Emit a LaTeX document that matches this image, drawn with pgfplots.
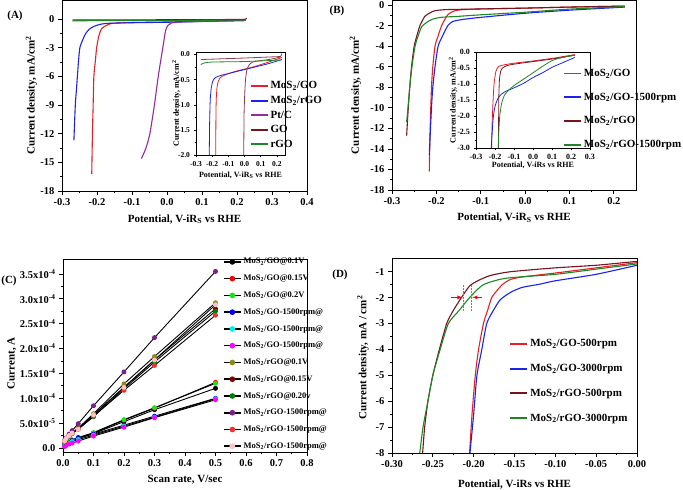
\documentclass[border=0pt]{standalone}
\usepackage{fontspec}
\setmainfont{Liberation Serif}
\usepackage{pgfplots}
\pgfplotsset{compat=1.18}
\definecolor{cR}{RGB}{235,30,35}
\definecolor{cB}{RGB}{25,35,235}
\definecolor{cP}{RGB}{150,40,160}
\definecolor{cM}{RGB}{120,20,30}
\definecolor{cG}{RGB}{30,135,35}
\definecolor{cIM}{RGB}{140,60,75}
\definecolor{kBlack}{RGB}{0,0,0}
\definecolor{kRed}{RGB}{255,0,0}
\definecolor{kLime}{RGB}{20,230,20}
\definecolor{kBlue}{RGB}{0,0,255}
\definecolor{kCyan}{RGB}{0,240,240}
\definecolor{kMag}{RGB}{255,0,255}
\definecolor{kOlive}{RGB}{140,140,20}
\definecolor{kMaroon}{RGB}{130,0,0}
\definecolor{kDGreen}{RGB}{0,125,0}
\definecolor{kPurple}{RGB}{125,30,140}
\definecolor{kRed2}{RGB}{240,50,50}
\definecolor{kPink}{RGB}{255,195,195}
\pgfplotsset{
  orig/.style={
    scale only axis, anchor=south west,
    axis line style={line width=0.9pt}, tick style={line width=0.7pt, black},
    tick align=outside, xtick pos=left, ytick pos=left, minor tick num=1,
    major tick length=4pt, minor tick length=2.2pt,
    /pgf/number format/assume math mode=true,
    tick label style={font=\fontsize{10.5}{12}\selectfont\bfseries},
    label style={font=\fontsize{11}{13}\selectfont\bfseries},
    legend cell align=left,
    legend style={draw=none, fill=none, anchor=north west, inner sep=0pt,
      font=\fontsize{11}{12}\selectfont\bfseries},
    legend image post style={line width=1.9pt},
    every axis plot/.append style={line width=1.1pt},
  },
  inset/.style={
    scale only axis, anchor=south west,
    axis line style={line width=0.6pt}, tick style={line width=0.5pt, black},
    tick align=outside, xtick pos=left, ytick pos=left, minor tick num=1,
    major tick length=2.5pt, minor tick length=1.5pt,
    /pgf/number format/assume math mode=true,
    tick label style={font=\fontsize{7.5}{9}\selectfont\bfseries},
    label style={font=\fontsize{8}{9}\selectfont\bfseries},
    every axis plot/.append style={line width=0.8pt},
  },
  xf1/.style={xticklabel style={/pgf/number format/.cd, fixed, fixed zerofill, precision=1}},
  yf1/.style={yticklabel style={/pgf/number format/.cd, fixed, fixed zerofill, precision=1}},
}
\begin{document}
\begin{tikzpicture}
\path[use as bounding box] (0pt,0pt) rectangle (683pt,490pt);
% ---------------- Panel A ----------------
\begin{axis}[orig, xf1, at={(62pt,299pt)}, width=245pt, height=191pt,
  xmin=-0.3, xmax=0.4, ymin=-18, ymax=2,
  xtick={-0.3,-0.2,...,0.4}, ytick={-18,-15,...,0},
  xlabel={Potential, V-iR\textsubscript{S} vs RHE},
  ylabel={Current density, mA/cm\textsuperscript{2}},
  xlabel style={at={(axis description cs:0.5,-0.147)}, anchor=center},
  ylabel style={at={(axis description cs:-0.125,0.5)}, anchor=center},
  legend style={at={(axis description cs:0.765,0.584)}, row sep=1.8pt},
  clip=false]
\addplot[cR, smooth, tension=0.4] coordinates {(0.225,-0.08)(0.1,-0.22)(0,-0.3)(-0.1,-0.36)(-0.15,-0.42)(-0.163,-0.5)(-0.175,-0.7)(-0.187,-1)(-0.195,-1.8)(-0.201,-3)(-0.205,-4.5)(-0.209,-6)(-0.211,-9)(-0.213,-12)(-0.215,-16.2)};
\addlegendentry{MoS\textsubscript{2}/GO}
\addplot[cB, smooth, tension=0.4] coordinates {(0.225,-0.1)(0.1,-0.25)(0,-0.33)(-0.1,-0.38)(-0.15,-0.42)(-0.175,-0.46)(-0.191,-0.55)(-0.208,-0.75)(-0.222,-1.05)(-0.232,-1.5)(-0.24,-2.1)(-0.249,-3)(-0.253,-4.5)(-0.256,-6)(-0.259,-7.5)(-0.262,-9)(-0.266,-12.7)};
\addlegendentry{MoS\textsubscript{2}/rGO}
\addplot[cP, smooth, tension=0.4] coordinates {(0.22,-0.18)(0.1,-0.24)(0.03,-0.3)(0.012,-0.42)(0.003,-0.65)(-0.004,-1.2)(-0.012,-3)(-0.025,-6)(-0.036,-9)(-0.049,-12)(-0.06,-13.5)(-0.073,-14.6)};
\addlegendentry{Pt/C}
\addplot[cM] coordinates {(-0.27,-0.1)(0,-0.07)(0.22,-0.04)(0.228,0.05)};
\addlegendentry{GO}
\addplot[cG, smooth] coordinates {(-0.27,-0.2)(-0.24,-0.17)(0,-0.14)(0.225,-0.1)};
\addlegendentry{rGO}
\end{axis}
\begin{axis}[inset, xf1, yf1, at={(196pt,335pt)}, width=89pt, height=103pt,
  xmin=-0.3, xmax=0.25, ymin=-2, ymax=0.05,
  xtick={-0.3,-0.2,...,0.2}, ytick={-2,-1.5,...,0},
  xlabel={Potential, V-iR\textsubscript{S} vs RHE},
  ylabel={Current density, mA/cm\textsuperscript{2}},
  xlabel style={at={(axis description cs:0.5,-0.2)}, anchor=center},
  ylabel style={at={(axis description cs:-0.22,0.5)}, anchor=center}]
\addplot[cR, smooth, tension=0.4] coordinates {(0.23,-0.06)(0.15,-0.15)(0.05,-0.25)(0,-0.29)(-0.05,-0.33)(-0.1,-0.38)(-0.13,-0.42)(-0.15,-0.46)(-0.162,-0.53)(-0.17,-0.65)(-0.175,-0.9)(-0.177,-1.3)(-0.178,-2.0)};
\addplot[cB, smooth, tension=0.4] coordinates {(0.23,-0.1)(0.15,-0.18)(0.05,-0.26)(0,-0.3)(-0.05,-0.34)(-0.1,-0.38)(-0.15,-0.42)(-0.18,-0.46)(-0.195,-0.52)(-0.205,-0.65)(-0.212,-0.9)(-0.216,-1.4)(-0.218,-2.0)};
\addplot[cIM, smooth, tension=0.4] coordinates {(0.23,0.02)(0.22,-0.05)(0.15,-0.1)(0.1,-0.12)(0.05,-0.15)(0.03,-0.2)(0.015,-0.3)(0.006,-0.5)(0.001,-0.8)(-0.003,-1.2)(-0.005,-2.0)};
\addplot[cIM] coordinates {(-0.27,-0.1)(0,-0.07)(0.225,-0.04)};
\addplot[cG, smooth] coordinates {(-0.27,-0.2)(-0.25,-0.17)(-0.2,-0.15)(0,-0.14)(0.225,-0.11)};
\end{axis}
% ---------------- Panel B ----------------
\begin{axis}[orig, xf1, at={(392pt,300pt)}, width=244pt, height=190pt,
  xmin=-0.3, xmax=0.25, ymin=-18, ymax=0.49,
  xtick={-0.3,-0.2,...,0.2}, ytick={-18,-16,...,0},
  xlabel={Potential, V-iR\textsubscript{S} vs RHE},
  ylabel={Current density, mA/cm\textsuperscript{2}},
  xlabel style={at={(axis description cs:0.5,-0.147)}, anchor=center},
  ylabel style={at={(axis description cs:-0.15,0.5)}, anchor=center},
  legend style={at={(axis description cs:0.70,0.648)}, row sep=11pt},
  clip=false]
\addplot[cR, smooth, tension=0.4] coordinates {(0.225,-0.1)(0.1,-0.2)(0,-0.3)(-0.1,-0.38)(-0.14,-0.45)(-0.158,-0.55)(-0.17,-0.8)(-0.177,-1.1)(-0.188,-2)(-0.196,-3)(-0.203,-4)(-0.208,-6)(-0.211,-8)(-0.214,-12)(-0.216,-16.2)};
\addlegendentry{MoS\textsubscript{2}/GO}
\addplot[cB, smooth, tension=0.4] coordinates {(0.225,-0.2)(0.1,-0.5)(0,-0.8)(-0.1,-1.2)(-0.14,-1.4)(-0.163,-1.6)(-0.174,-2)(-0.186,-3)(-0.196,-4)(-0.203,-6)(-0.208,-8)(-0.211,-10)(-0.216,-14.6)};
\addlegendentry{MoS\textsubscript{2}/GO-1500rpm}
\addplot[cM, smooth, tension=0.4] coordinates {(0.225,-0.1)(0.1,-0.2)(0,-0.3)(-0.1,-0.38)(-0.15,-0.42)(-0.18,-0.45)(-0.203,-0.55)(-0.215,-0.78)(-0.226,-1.1)(-0.237,-2)(-0.244,-3)(-0.25,-4)(-0.256,-6)(-0.26,-8)(-0.264,-10.5)(-0.267,-12.7)};
\addlegendentry{MoS\textsubscript{2}/rGO}
\addplot[cG, smooth, tension=0.4] coordinates {(0.225,-0.15)(0.1,-0.4)(0,-0.7)(-0.1,-0.95)(-0.15,-1.1)(-0.19,-1.2)(-0.21,-1.4)(-0.222,-1.7)(-0.233,-2.1)(-0.241,-3)(-0.248,-4)(-0.255,-6)(-0.26,-8)(-0.264,-10)(-0.267,-11.4)};
\addlegendentry{MoS\textsubscript{2}/rGO-1500rpm}
\end{axis}
\begin{axis}[inset, xf1, yf1, at={(476pt,342pt)}, width=114pt, height=96pt,
  xmin=-0.3, xmax=0.3, ymin=-3, ymax=0,
  xtick={-0.3,-0.2,...,0.3}, ytick={-3,-2.5,...,0},
  tick label style={font=\fontsize{8}{9}\selectfont\bfseries},
  xlabel={Potential, V-iRs vs RHE},
  ylabel={Current density, mA/cm\textsuperscript{2}},
  xlabel style={at={(axis description cs:0.5,-0.18)}, anchor=center},
  ylabel style={at={(axis description cs:-0.2,0.5)}, anchor=center}]
\addplot[cR, smooth, tension=0.4] coordinates {(0.22,-0.08)(0.1,-0.2)(0,-0.28)(-0.1,-0.35)(-0.15,-0.4)(-0.18,-0.45)(-0.195,-0.6)(-0.205,-1.0)(-0.21,-1.5)(-0.215,-2.2)(-0.218,-3.0)};
\addplot[cB, smooth, tension=0.4] coordinates {(0.22,-0.17)(0.15,-0.35)(0.1,-0.48)(0.05,-0.65)(0,-0.8)(-0.05,-0.98)(-0.1,-1.12)(-0.15,-1.25)(-0.18,-1.4)(-0.2,-1.7)(-0.21,-2.1)(-0.22,-3.0)};
\addplot[cM, smooth, tension=0.4] coordinates {(0.22,-0.1)(0.1,-0.22)(0,-0.3)(-0.1,-0.38)(-0.14,-0.43)(-0.16,-0.5)(-0.17,-0.6)(-0.177,-0.9)(-0.18,-1.5)(-0.182,-3.0)};
\addplot[cG, smooth, tension=0.4] coordinates {(0.22,-0.1)(0.15,-0.18)(0.1,-0.27)(0.05,-0.45)(0,-0.65)(-0.05,-0.85)(-0.1,-1.05)(-0.13,-1.2)(-0.15,-1.35)(-0.165,-1.6)(-0.175,-2.0)(-0.18,-2.5)(-0.183,-3.0)};
\end{axis}
% ---------------- Panel C ----------------
\begin{axis}[orig, at={(63pt,38pt)}, width=244pt, height=193pt,
  xmin=0, xmax=0.8, ymin=-0.08, ymax=3.8,
  xtick={0,0.1,...,0.8}, ytick={0,0.5,...,3.5},
  xticklabel style={/pgf/number format/.cd, fixed, fixed zerofill, precision=1},
  yticklabels={0.0, 5.0x10\textsuperscript{-5}, 1.0x10\textsuperscript{-4}, 1.5x10\textsuperscript{-4}, 2.0x10\textsuperscript{-4}, 2.5x10\textsuperscript{-4}, 3.0x10\textsuperscript{-4}, 3.5x10\textsuperscript{-4}},
  xlabel={Scan rate, V/sec}, ylabel={Current, A},
  xlabel style={at={(axis description cs:0.5,-0.145)}, anchor=center},
  ylabel style={at={(axis description cs:-0.21,0.46)}, anchor=center},
  legend style={at={(axis description cs:0.655,1.015)}, row sep=5.6pt,
    font=\fontsize{8.5}{9.5}\selectfont\bfseries},
  legend image post style={line width=1.6pt},
  every axis plot/.append style={black, line width=0.9pt, mark=*, mark size=2pt},
  clip=false]
\addplot[mark options={fill=kBlack,draw=kBlack}] coordinates {(0.005,0.06)(0.01,0.08)(0.02,0.11)(0.03,0.15)(0.05,0.19)(0.1,0.29)(0.2,0.53)(0.3,0.77)(0.5,1.20)};
\addlegendentry{MoS\textsubscript{2}/GO@0.1V}
\addplot[mark options={fill=kRed,draw=kRed}] coordinates {(0.005,0.06)(0.01,0.09)(0.02,0.12)(0.03,0.16)(0.05,0.20)(0.1,0.30)(0.2,0.56)(0.3,0.80)(0.5,1.32)};
\addlegendentry{MoS\textsubscript{2}/GO@0.15V}
\addplot[mark options={fill=kLime,draw=kLime}] coordinates {(0.005,0.06)(0.01,0.09)(0.02,0.12)(0.03,0.16)(0.05,0.21)(0.1,0.31)(0.2,0.57)(0.3,0.81)(0.5,1.30)};
\addlegendentry{MoS\textsubscript{2}/GO@0.2V}
\addplot[mark options={fill=kBlue,draw=kBlue}] coordinates {(0.005,0.05)(0.01,0.07)(0.02,0.10)(0.03,0.15)(0.05,0.21)(0.1,0.28)(0.2,0.46)(0.3,0.64)(0.5,1.00)};
\addlegendentry{MoS\textsubscript{2}/GO-1500rpm@}
\addplot[mark options={fill=kCyan,draw=kCyan}] coordinates {(0.005,0.04)(0.01,0.06)(0.02,0.09)(0.03,0.13)(0.05,0.17)(0.1,0.26)(0.2,0.44)(0.3,0.62)(0.5,0.99)};
\addlegendentry{MoS\textsubscript{2}/GO-1500rpm@}
\addplot[mark options={fill=kMag,draw=kMag}] coordinates {(0.005,0.03)(0.01,0.05)(0.02,0.08)(0.03,0.10)(0.05,0.14)(0.1,0.24)(0.2,0.42)(0.3,0.61)(0.5,0.97)};
\addlegendentry{MoS\textsubscript{2}/GO-1500rpm@}
\addplot[mark options={fill=kOlive,draw=kOlive}] coordinates {(0.005,0.14)(0.01,0.19)(0.02,0.25)(0.03,0.31)(0.05,0.40)(0.1,0.69)(0.2,1.29)(0.3,1.84)(0.5,2.92)};
\addlegendentry{MoS\textsubscript{2}/rGO@0.1V}
\addplot[mark options={fill=kMaroon,draw=kMaroon}] coordinates {(0.005,0.13)(0.01,0.18)(0.02,0.24)(0.03,0.30)(0.05,0.39)(0.1,0.66)(0.2,1.22)(0.3,1.77)(0.5,2.80)};
\addlegendentry{MoS\textsubscript{2}/rGO@0.15V}
\addplot[mark options={fill=kDGreen,draw=kDGreen}] coordinates {(0.005,0.12)(0.01,0.17)(0.02,0.23)(0.03,0.29)(0.05,0.38)(0.1,0.63)(0.2,1.19)(0.3,1.73)(0.5,2.75)};
\addlegendentry{MoS\textsubscript{2}/rGO@0.20v}
\addplot[mark options={fill=kPurple,draw=kPurple}] coordinates {(0.005,0.15)(0.01,0.20)(0.02,0.28)(0.03,0.35)(0.05,0.49)(0.1,0.85)(0.2,1.53)(0.3,2.22)(0.5,3.55)};
\addlegendentry{MoS\textsubscript{2}/rGO-1500rpm@}
\addplot[mark options={fill=kRed2,draw=kRed2}] coordinates {(0.005,0.13)(0.01,0.18)(0.02,0.24)(0.03,0.29)(0.05,0.38)(0.1,0.64)(0.2,1.16)(0.3,1.66)(0.5,2.67)};
\addlegendentry{MoS\textsubscript{2}/rGO-1500rpm@}
\addplot[mark options={fill=kPink,draw=kPink}] coordinates {(0.005,0.14)(0.01,0.19)(0.02,0.25)(0.03,0.30)(0.05,0.38)(0.1,0.67)(0.2,1.22)(0.3,1.77)(0.5,2.88)};
\addlegendentry{MoS\textsubscript{2}/rGO-1500rpm@}
\end{axis}
% ---------------- Panel D ----------------
\begin{axis}[orig, at={(392pt,37pt)}, width=245pt, height=195pt,
  xmin=-0.3, xmax=0, ymin=-8, ymax=-0.47,
  xtick={-0.3,-0.25,...,0}, ytick={-8,-7,...,-1},
  xticklabel style={/pgf/number format/.cd, fixed, fixed zerofill, precision=2},
  xlabel={Potential, V-iRs vs RHE},
  ylabel={Current density, mA / cm\textsuperscript{2}},
  xlabel style={at={(axis description cs:0.5,-0.164)}, anchor=center},
  ylabel style={at={(axis description cs:-0.118,0.49)}, anchor=center},
  legend style={at={(axis description cs:0.478,0.594)}, row sep=12pt}]
\addplot[cR, smooth, tension=0.4] coordinates {(0,-0.65)(-0.05,-0.85)(-0.1,-1.05)(-0.14,-1.2)(-0.155,-1.3)(-0.165,-1.5)(-0.172,-1.75)(-0.178,-2)(-0.183,-2.5)(-0.188,-3)(-0.194,-4)(-0.198,-5)(-0.202,-6.5)(-0.205,-8)};
\addlegendentry{MoS\textsubscript{2}/GO-500rpm}
\addplot[cB, smooth, tension=0.4] coordinates {(0,-0.75)(-0.05,-1.1)(-0.1,-1.35)(-0.119,-1.48)(-0.14,-1.6)(-0.152,-1.75)(-0.16,-1.9)(-0.168,-2.1)(-0.176,-2.5)(-0.184,-3)(-0.19,-4)(-0.196,-5)(-0.2,-6.5)(-0.2045,-8)};
\addlegendentry{MoS\textsubscript{2}/GO-3000rpm}
\addplot[cM, smooth, tension=0.4] coordinates {(0,-0.6)(-0.05,-0.75)(-0.1,-0.85)(-0.155,-1)(-0.18,-1.15)(-0.195,-1.35)(-0.205,-1.55)(-0.215,-2)(-0.225,-2.5)(-0.233,-3)(-0.242,-4)(-0.25,-5)(-0.256,-6)(-0.26,-7)(-0.2625,-8)};
\addlegendentry{MoS\textsubscript{2}/rGO-500rpm}
\addplot[cG, smooth, tension=0.4] coordinates {(0,-0.7)(-0.05,-0.9)(-0.1,-1.1)(-0.16,-1.25)(-0.188,-1.5)(-0.205,-2)(-0.218,-2.5)(-0.231,-3)(-0.241,-4)(-0.25,-5)(-0.256,-6)(-0.262,-7)(-0.266,-8)};
\addlegendentry{MoS\textsubscript{2}/rGO-3000rpm}
\draw[gray, densely dotted, line width=0.5pt] (axis cs:-0.2127,-1.5) -- (axis cs:-0.2127,-2.5);
\draw[gray, densely dotted, line width=0.5pt] (axis cs:-0.2024,-1.5) -- (axis cs:-0.2024,-2.5);
\draw[red, -latex, line width=0.8pt] (axis cs:-0.228,-1.99) -- (axis cs:-0.2135,-1.99);
\draw[red, -latex, line width=0.8pt] (axis cs:-0.19,-1.99) -- (axis cs:-0.2017,-1.99);
\end{axis}
% panel letters
\node[font=\fontsize{11}{13}\selectfont\bfseries] at (15pt,474pt) {(A)};
\node[font=\fontsize{11}{13}\selectfont\bfseries] at (337pt,479pt) {(B)};
\node[font=\fontsize{11}{13}\selectfont\bfseries] at (9pt,209pt) {(C)};
\node[font=\fontsize{11}{13}\selectfont\bfseries] at (340pt,215pt) {(D)};
\end{tikzpicture}
\end{document}
